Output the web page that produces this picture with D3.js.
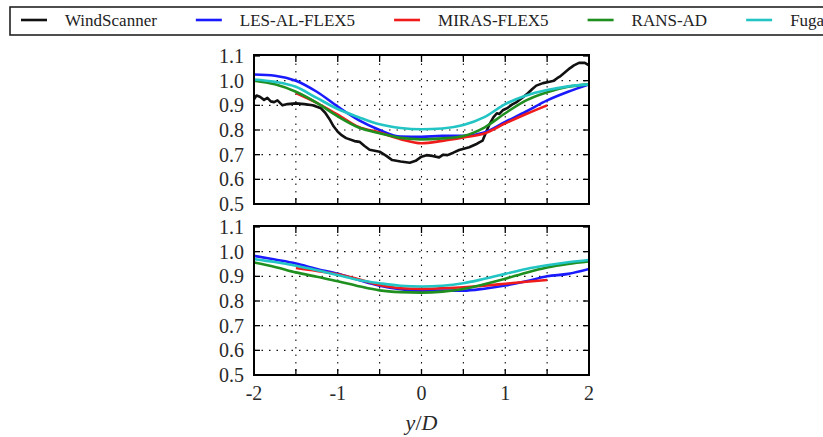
<!doctype html>
<html lang="en">
<head>
<meta charset="UTF-8">
<title>Wake profiles</title>
<script src="https://d3js.org/d3.v7.min.js"></script>
<style>
body { margin: 0; background-color: #ffffff; }
svg { display: block; font-family: "Liberation Serif", "Times New Roman", serif; }
.grid line { stroke: #111; stroke-width: 1.1; stroke-dasharray: 1.5,6; }
.frame { fill: none; stroke: #000; stroke-width: 2; }
.tick-label { font-size: 20px; fill: #2a2a2a; }
path.profile { fill: none; stroke-width: 2.6; stroke-linejoin: round; }
</style>
</head>
<body>
<div id="plot"></div>
<script>

var width = 823;
var height = 437;

// legend
var seriesNames = ["WindScanner", "LES-AL-FLEX5", "MIRAS-FLEX5", "RANS-AD", "Fuga"];
var seriesColors = ["#111111", "#1a1aff", "#f01c1c", "#1f8f1f", "#22c4c4"];

// ticks
var yTicks = [0.5, 0.6, 0.7, 0.8, 0.9, 1.0, 1.1];
var xGrid = [-2, -1.5, -1, -0.5, 0, 0.5, 1, 1.5, 2];
var xTickLabels = [-2, -1, 0, 1, 2];

// shared x positions for the model curves
var modelX = [-2, -1.75, -1.5, -1.25, -1, -0.75, -0.5, -0.25, 0, 0.25, 0.5, 0.75, 1, 1.25, 1.5, 1.75, 2];
var mirasX = [-1.5, -1.25, -1, -0.75, -0.5, -0.25, 0, 0.25, 0.5, 0.75, 1, 1.25, 1.5];

// top panel
var scanX = [-2.0, -1.97, -1.93, -1.88, -1.84, -1.8, -1.76, -1.72, -1.66, -1.6, -1.5, -1.4, -1.3, -1.2, -1.15,
  -1.1, -1.05, -1.0, -0.95, -0.9, -0.8, -0.74, -0.68, -0.62, -0.5, -0.42, -0.35, -0.25, -0.14, -0.07,
  0, 0.06, 0.13, 0.21, 0.26, 0.31, 0.38, 0.45, 0.57, 0.65, 0.69, 0.73, 0.77, 0.81, 0.86, 0.9, 0.93,
  0.97, 1.03, 1.08, 1.13, 1.2, 1.27, 1.32, 1.37, 1.45, 1.53, 1.58, 1.62, 1.65, 1.7, 1.77, 1.82, 1.88, 1.95, 2.0];
var scanTop = [0.925, 0.94, 0.935, 0.922, 0.93, 0.916, 0.913, 0.92, 0.9, 0.905, 0.908, 0.905, 0.9, 0.888, 0.87,
  0.845, 0.815, 0.793, 0.778, 0.767, 0.755, 0.752, 0.735, 0.72, 0.712, 0.695, 0.678, 0.672, 0.667, 0.675,
  0.692, 0.698, 0.695, 0.689, 0.7, 0.698, 0.708, 0.719, 0.73, 0.742, 0.75, 0.757, 0.79, 0.822, 0.852, 0.868, 0.865,
  0.88, 0.89, 0.903, 0.912, 0.93, 0.949, 0.965, 0.98, 0.99, 0.996, 1.0, 1.01, 1.016, 1.03, 1.05, 1.062, 1.072, 1.072, 1.062];
var lesTop = [1.025, 1.02, 1.0, 0.955, 0.895, 0.84, 0.8, 0.773, 0.772, 0.776, 0.776, 0.79, 0.833, 0.875, 0.92, 0.955, 0.985];
var mirasTop = [0.95, 0.91, 0.862, 0.812, 0.79, 0.763, 0.746, 0.756, 0.77, 0.786, 0.827, 0.865, 0.9];
var ransTop = [1.0, 0.985, 0.955, 0.91, 0.855, 0.81, 0.787, 0.768, 0.762, 0.766, 0.776, 0.81, 0.868, 0.92, 0.953, 0.975, 0.985];
var fugaTop = [1.005, 0.995, 0.975, 0.93, 0.885, 0.852, 0.823, 0.808, 0.803, 0.806, 0.82, 0.852, 0.905, 0.94, 0.962, 0.977, 0.985];

// bottom panel
var lesBottom = [0.983, 0.968, 0.952, 0.93, 0.91, 0.885, 0.862, 0.848, 0.842, 0.842, 0.842, 0.85, 0.863, 0.88, 0.9, 0.91, 0.93];
var mirasBottom = [0.934, 0.922, 0.908, 0.888, 0.865, 0.852, 0.849, 0.852, 0.856, 0.862, 0.87, 0.878, 0.885];
var ransBottom = [0.956, 0.938, 0.916, 0.898, 0.88, 0.86, 0.843, 0.836, 0.834, 0.838, 0.849, 0.868, 0.89, 0.915, 0.936, 0.95, 0.96];
var fugaBottom = [0.97, 0.958, 0.943, 0.925, 0.905, 0.885, 0.872, 0.862, 0.859, 0.862, 0.872, 0.89, 0.91, 0.93, 0.945, 0.957, 0.966];

var svg = d3.select("#plot").append("svg")
.attr("width", width)
.attr("height", height);

var xScale = d3.scaleLinear().domain([-2, 2]).range([254, 589]);

var panels = [
  { top: 56, bottom: 204, series: [
    { x: scanX, y: scanTop, c: 0, curve: d3.curveLinear },
    { x: modelX, y: lesTop, c: 1, curve: d3.curveMonotoneX },
    { x: mirasX, y: mirasTop, c: 2, curve: d3.curveMonotoneX },
    { x: modelX, y: ransTop, c: 3, curve: d3.curveMonotoneX },
    { x: modelX, y: fugaTop, c: 4, curve: d3.curveMonotoneX }
  ] },
  { top: 227, bottom: 375, series: [
    { x: modelX, y: lesBottom, c: 1, curve: d3.curveMonotoneX },
    { x: mirasX, y: mirasBottom, c: 2, curve: d3.curveMonotoneX },
    { x: modelX, y: ransBottom, c: 3, curve: d3.curveMonotoneX },
    { x: modelX, y: fugaBottom, c: 4, curve: d3.curveMonotoneX }
  ] }
];

panels.forEach(function (p, pi) {
  var yScale = d3.scaleLinear().domain([0.5, 1.1]).range([p.bottom, p.top]);
  var x0 = xScale.range()[0], x1 = xScale.range()[1];

  var grid = svg.append("g").attr("class", "grid");
  grid.selectAll("line.h").data(yTicks.slice(1, -1)).enter().append("line")
  .attr("x1", x0).attr("x2", x1)
  .attr("y1", function (d) { return yScale(d); })
  .attr("y2", function (d) { return yScale(d); });
  grid.selectAll("line.v").data(xGrid.slice(1, -1)).enter().append("line")
  .attr("y1", p.top).attr("y2", p.bottom)
  .attr("x1", function (d) { return xScale(d); })
  .attr("x2", function (d) { return xScale(d); });

  // inward tick marks on all four sides
  var ticks = svg.append("g").attr("stroke", "#000").attr("stroke-width", 1.3);
  yTicks.forEach(function (v) {
    ticks.append("line").attr("x1", x0).attr("x2", x0 + 6).attr("y1", yScale(v)).attr("y2", yScale(v));
    ticks.append("line").attr("x1", x1).attr("x2", x1 - 6).attr("y1", yScale(v)).attr("y2", yScale(v));
  });
  xGrid.forEach(function (v) {
    ticks.append("line").attr("x1", xScale(v)).attr("x2", xScale(v)).attr("y1", p.bottom).attr("y2", p.bottom - 6);
    ticks.append("line").attr("x1", xScale(v)).attr("x2", xScale(v)).attr("y1", p.top).attr("y2", p.top + 6);
  });

  svg.append("g").selectAll("text").data(yTicks).enter().append("text")
  .attr("class", "tick-label")
  .attr("x", x0 - 10)
  .attr("y", function (d) { return yScale(d); })
  .attr("dy", "0.35em")
  .attr("text-anchor", "end")
  .text(function (d) { return d.toFixed(1); });

  var clip = "clip" + pi;
  svg.append("clipPath").attr("id", clip).append("rect")
  .attr("x", x0).attr("y", p.top).attr("width", x1 - x0).attr("height", p.bottom - p.top);

  p.series.forEach(function (s) {
    var line = d3.line()
      .x(function (d) { return xScale(d[0]); })
      .y(function (d) { return yScale(d[1]); })
      .curve(s.curve);
    svg.append("path")
    .attr("class", "profile")
    .attr("clip-path", "url(#" + clip + ")")
    .attr("d", line(d3.zip(s.x, s.y)))
    .style("stroke", seriesColors[s.c]);
  });

  svg.append("rect")
  .attr("class", "frame")
  .attr("x", x0).attr("y", p.top - 1)
  .attr("width", x1 - x0).attr("height", p.bottom - p.top + 1);

  if (pi === 1) {
    svg.append("g").selectAll("text").data(xTickLabels).enter().append("text")
    .attr("class", "tick-label")
    .attr("x", function (d) { return xScale(d); })
    .attr("y", p.bottom + 25)
    .attr("text-anchor", "middle")
    .text(function (d) { return d; });

    var lab = svg.append("text")
    .attr("x", xScale(0))
    .attr("y", 430)
    .attr("text-anchor", "middle")
    .style("font-size", "22px")
    .style("fill", "#2a2a2a");
    lab.append("tspan").style("font-style", "italic").text("y");
    lab.append("tspan").text("/");
    lab.append("tspan").style("font-style", "italic").text("D");
  }
});

// legend, laid out from the measured text widths
svg.append("rect")
.attr("x", 10).attr("y", 7)
.attr("width", 830).attr("height", 28)
.style("fill", "none").style("stroke", "#222").style("stroke-width", 1.6);

var lx = 21;
seriesNames.forEach(function (name, i) {
  svg.append("line")
  .attr("x1", lx).attr("x2", lx + 26)
  .attr("y1", 20).attr("y2", 20)
  .style("stroke", seriesColors[i]).style("stroke-width", 2.6);
  var t = svg.append("text")
  .attr("x", lx + 44).attr("y", 26)
  .style("font-size", "17px").style("fill", "#222")
  .text(name);
  lx = lx + 44 + t.node().getComputedTextLength() + 39;
});

</script>
</body>
</html>
